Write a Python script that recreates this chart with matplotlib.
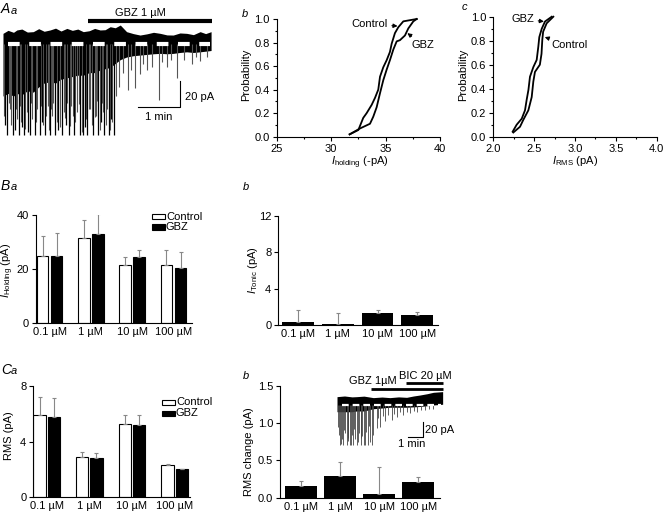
import matplotlib.pyplot as plt
from matplotlib.patches import Rectangle
from matplotlib.ticker import MultipleLocator

plt.rcParams['font.family'] = ['Liberation Sans', 'DejaVu Sans']
plt.rcParams['font.size'] = 8
plt.rcParams['axes.linewidth'] = 0.8
plt.rcParams['mathtext.fontset'] = 'custom'
plt.rcParams['mathtext.rm'] = 'Liberation Sans'
plt.rcParams['mathtext.it'] = 'Liberation Sans:italic'

# ---- datos ----
# Aa: registro (min, pA)
env_t = [0, 0.12, 0.25, 0.33, 0.45, 0.58, 0.72, 0.85, 0.98, 1.12, 1.25, 1.38, 1.52, 1.65, 1.78,
         1.91, 2.05, 2.18, 2.31, 2.43, 2.55, 2.67, 2.79, 2.94, 3.10, 3.26, 3.42, 3.58, 3.74, 3.90,
         4.05, 4.21, 4.37, 4.53, 4.69, 4.82, 4.95]
env_up = [8.2, 10.5, 9.0, 10.8, 11.5, 9.2, 9.5, 11.8, 9.8, 10.8, 12.2, 10.0, 12, 10.5, 11.5,
          9.5, 10.2, 12.0, 10.8, 11.0, 13.3, 12.5, 14.6, 9.5, 8.0, 6.9, 7.8, 9.0, 8.2, 7.0,
          6.9, 8.5, 8.2, 7.2, 9.5, 8.0, 9.5]
env_lo = [-40, -38, -40, -38, -39, -36, -37, -33, -30, -29, -30, -27, -26, -25, -24,
          -24, -22, -22, -20, -19, -18, -15, -12, -10, -9, -8.5, -8, -7.5, -7.2, -7.5,
          -7.2, -6.5, -6, -6.5, -6, -5.5, -5]
# eventos grandes (negro) y medianos (gris)
spk_t = [0.10, 0.23, 0.37, 0.50, 0.64, 0.76, 0.87, 1.00, 1.12, 1.24, 1.40, 1.56, 1.69, 1.83,
         1.91, 2.01, 2.15, 2.27, 2.40, 2.51, 2.63, 0.05, 0.28, 0.45, 0.60, 0.92, 1.30, 1.50,
         1.95, 2.33, 2.58]
spk_a = [70, 70, 70, 70, 70, 70, 70, 70, 70, 70, 70, 70, 70, 70,
         70, 70, 70, 70, 70, 70, 70, 62, 66, 64, 68, 60, 66, 62,
         64, 60, 58]
spk2_t = [0.03, 0.14, 0.17, 0.20, 0.30, 0.34, 0.40, 0.43, 0.53, 0.56, 0.67, 0.70, 0.79, 0.82,
          0.90, 0.94, 1.03, 1.06, 1.09, 1.15, 1.17, 1.20, 1.28, 1.32, 1.36, 1.44, 1.48, 1.53,
          1.59, 1.62, 1.66, 1.72, 1.75, 1.80, 1.87, 1.98, 2.04, 2.07, 2.11, 2.18, 2.21, 2.24,
          2.30, 2.35, 2.38, 2.45, 2.48, 2.54, 2.56, 2.60, 2.68,
          2.75, 2.86, 2.98, 3.05, 3.14, 3.26, 3.34, 3.42, 3.55, 3.70, 3.78, 3.90, 4.00, 4.13,
          4.30, 4.49, 4.60, 4.69, 4.85]
spk2_a = [55, 45, 50, 62, 50, 58, 48, 60, 65, 52, 45, 58, 60, 50,
          48, 62, 55, 48, 66, 50, 55, 45, 60, 50, 64, 52, 57, 45, 63, 48, 55, 60, 52, 46, 68, 58,
          50, 50, 62, 56, 55, 44, 66, 45, 52, 62, 50, 66, 48, 60, 40,
          33, 22, 35, 20, 34, 23, 15, 20, 18, 43, 14, 18, 12, 26,
          12, 15, 10, 13, 10]

# Ab: distribuciones acumuladas de I holding
hold_ctrl_x = [31.7, 32.5, 32.95, 33.26, 33.72, 34.03, 34.33, 34.49, 34.79, 35.10, 35.40, 35.56,
               35.86, 36.17, 36.63, 37.24, 37.86]
hold_ctrl_p = [0.02, 0.057, 0.16, 0.2, 0.27, 0.33, 0.40, 0.51, 0.59, 0.65, 0.72, 0.79,
               0.88, 0.93, 0.98, 0.99, 1.0]
hold_gbz_x = [31.7, 32.65, 33.57, 33.87, 34.18, 34.49, 34.79, 35.10, 35.40, 35.71, 36.02, 36.32,
              36.78, 37.09, 37.55, 37.86]
hold_gbz_p = [0.02, 0.07, 0.11, 0.17, 0.25, 0.37, 0.48, 0.57, 0.65, 0.74, 0.81, 0.82,
              0.86, 0.92, 0.98, 1.0]

# Ac: distribuciones acumuladas de I RMS
rms_gbz_x = [2.237, 2.286, 2.348, 2.388, 2.409, 2.43, 2.449, 2.49, 2.531, 2.551, 2.563, 2.593, 2.633, 2.715]
rms_gbz_p = [0.042, 0.10, 0.15, 0.22, 0.31, 0.39, 0.50, 0.58, 0.64, 0.75, 0.83, 0.90, 0.96, 1.0]
rms_ctrl_x = [2.245, 2.327, 2.367, 2.429, 2.47, 2.49, 2.51, 2.57, 2.59, 2.60, 2.61, 2.653, 2.735]
rms_ctrl_p = [0.035, 0.083, 0.14, 0.22, 0.33, 0.46, 0.54, 0.60, 0.69, 0.81, 0.875, 0.945, 1.0]

conc = ['0.1 µM', '1 µM', '10 µM', '100 µM']

# Ba
hold_ctrl = [24.9, 31.5, 21.4, 21.5]
hold_ctrl_err = [7.3, 6.7, 3.1, 5.6]
hold_gbz = [25.0, 32.9, 24.5, 20.4]
hold_gbz_err = [8.4, 7.3, 2.6, 5.9]

# Bb
tonic = [0.29, 0.07, 1.35, 1.06]
tonic_err = [1.36, 1.21, 0.30, 0.33]

# Ca
rms_ctrl = [5.88, 2.86, 5.24, 2.31]
rms_ctrl_err = [1.36, 0.40, 0.66, 0.07]
rms_gbz = [5.74, 2.81, 5.19, 2.00]
rms_gbz_err = [1.36, 0.39, 0.69, 0.05]

# Cb
rms_chg = [0.156, 0.29, 0.045, 0.21]
rms_chg_err = [0.066, 0.19, 0.365, 0.07]

# Cb recuadro: registro (min, pA)
ins_t = [0, 0.5, 1.0, 1.31, 1.8, 2.42, 3.0, 3.53, 4.1, 4.64, 5.1, 5.53, 6.0, 6.42, 7.04]
ins_up = [11.1, 12.0, 10.8, 11.1, 11.8, 9.8, 10.6, 9.8, 10.8, 10.2, 12.0, 13.3, 15.0, 16.9, 17.8]
ins_lo = [-9, -9, -9, -8, -8, -5, -4, -3, -3, -3, -2.5, -2, -1, 0, 1]
ins_spk_t = [0.20, 0.42, 0.64, 0.87, 1.09, 1.31, 1.58, 1.80, 2.09, 2.31,
             0.10, 0.31, 0.53, 0.75, 0.98, 1.20, 1.45, 1.69, 1.95, 2.20,
             0.05, 0.26, 0.48, 0.70, 0.92, 1.14, 1.38, 1.63, 1.88, 2.15, 2.40,
             2.64, 2.75, 2.87, 3.05, 3.20, 3.40, 3.64, 3.80, 3.98, 4.20, 4.42, 4.65, 4.87, 5.10,
             5.31, 5.60, 5.87, 6.10, 6.42]
ins_spk_a = [54, 54, 54, 54, 54, 54, 54, 54, 54, 54,
             40, 45, 38, 44, 40, 46, 38, 42, 36, 50,
             30, 52, 34, 48, 54, 32, 50, 44, 54, 28, 40,
             31, 18, 29, 15, 22, 14, 20, 12, 16, 10, 13, 9, 11, 8,
             9, 7, 7, 6, 5]

W, H = 664, 513
fig = plt.figure(figsize=(W / 100, H / 100), dpi=100)


def box(x0, y0, x1, y1):
    return fig.add_axes([x0 / W, 1 - y1 / H, (x1 - x0) / W, (y1 - y0) / H])


def ftext(x, y, s, **kw):
    fig.text(x / W, 1 - y / H, s, **kw)


def frect(x0, y0, x1, y1, fc):
    fig.add_artist(Rectangle((x0 / W, 1 - y1 / H), (x1 - x0) / W, (y1 - y0) / H,
                             transform=fig.transFigure, facecolor=fc, edgecolor='black', lw=0.8))


def estilo(ax):
    ax.spines['top'].set_visible(False)
    ax.spines['right'].set_visible(False)
    ax.tick_params(direction='out', length=3, width=0.8, pad=2, labelsize=8)
    ax.tick_params(which='minor', direction='out', length=1.5, width=0.8)


def etiqueta(x, y, mayus, minus):
    ftext(x, y, mayus, fontsize=10, style='italic', va='center')
    ftext(x + 9.5, y + 1.5, minus, fontsize=8, style='italic', va='center')


# ---------- Aa ----------
ax = box(0, 5, 230, 140)
ax.set_xlim(-0.071, 5.40)
ax.set_ylim(-73.8, 30)
ax.axis('off')
ax.fill_between(env_t, env_lo, env_up, color='black', lw=0)
ax.vlines(spk2_t, 0, [-a for a in spk2_a], color='#555555', lw=0.8)
ax.vlines(spk_t, 0, [-a for a in spk_a], color='black', lw=0.9)
ln, = ax.plot([0.126, 4.93], [0, 0], color='white', lw=3)
ln.set_dashes((2.8, 2.3))
ax.plot([2.02, 4.98], [17.7, 17.7], color='black', lw=3, solid_capstyle='butt')
ax.text(3.26, 23.8, 'GBZ 1 µM', ha='center', va='center', fontsize=8)
ax.plot([3.21, 4.21, 4.21], [-48.5, -48.5, -28.5], color='black', lw=0.8)
ax.text(4.33, -40.5, '20 pA', ha='left', va='center', fontsize=8)
ax.text(3.71, -56, '1 min', ha='center', va='center', fontsize=8)
etiqueta(1, 9, 'A', 'a')

# ---------- Ab ----------
ax = box(276.7, 19, 440, 136.7)
estilo(ax)
ax.plot(hold_ctrl_x, hold_ctrl_p, color='black', lw=1.3, clip_on=False)
ax.plot(hold_gbz_x, hold_gbz_p, color='black', lw=1.3, clip_on=False)
ax.set_xlim(25, 40)
ax.set_ylim(0, 1)
ax.xaxis.set_major_locator(MultipleLocator(5))
ax.xaxis.set_minor_locator(MultipleLocator(2.5))
ax.yaxis.set_major_locator(MultipleLocator(0.2))
ax.yaxis.set_minor_locator(MultipleLocator(0.1))
ax.set_yticklabels(['%.1f' % v for v in ax.get_yticks()])
ax.annotate('Control', xy=(36.1, 0.94), xytext=(35.2, 0.955), ha='right', va='center', fontsize=8,
            arrowprops=dict(arrowstyle='-|>', color='black', lw=0.8, mutation_scale=6, shrinkA=1, shrinkB=0))
ax.annotate('GBZ', xy=(37.0, 0.88), xytext=(37.4, 0.78), ha='left', va='center', fontsize=8,
            arrowprops=dict(arrowstyle='-|>', color='black', lw=0.8, mutation_scale=6, shrinkA=1, shrinkB=0))
ftext(246, 75, 'Probability', rotation=90, ha='center', va='center', fontsize=8)
ftext(360, 154.5, r'$\mathit{I}_{\mathrm{holding}}$ (-pA)', ha='center', va='top', fontsize=8)
ftext(242, 14, 'b', fontsize=8, style='italic', va='center')

# ---------- Ac ----------
ax = box(493.3, 16.7, 656.7, 136.7)
estilo(ax)
ax.plot(rms_gbz_x, rms_gbz_p, color='black', lw=1.3, clip_on=False)
ax.plot(rms_ctrl_x, rms_ctrl_p, color='black', lw=1.3, clip_on=False)
ax.set_xlim(2.0, 4.0)
ax.set_ylim(0, 1)
ax.xaxis.set_major_locator(MultipleLocator(0.5))
ax.xaxis.set_minor_locator(MultipleLocator(0.25))
ax.yaxis.set_major_locator(MultipleLocator(0.2))
ax.yaxis.set_minor_locator(MultipleLocator(0.1))
ax.set_yticklabels(['%.1f' % v for v in ax.get_yticks()])
ax.set_xticklabels(['%.1f' % v for v in ax.get_xticks()])
ax.annotate('GBZ', xy=(2.62, 0.96), xytext=(2.36, 0.98), ha='center', va='center', fontsize=8,
            arrowprops=dict(arrowstyle='-|>', color='black', lw=0.8, mutation_scale=6, shrinkA=1, shrinkB=0))
ax.annotate('Control', xy=(2.63, 0.83), xytext=(2.71, 0.76), ha='left', va='center', fontsize=8,
            arrowprops=dict(arrowstyle='-|>', color='black', lw=0.8, mutation_scale=6, shrinkA=1, shrinkB=0))
ftext(463, 75, 'Probability', rotation=90, ha='center', va='center', fontsize=8)
ftext(575, 154.5, r'$\mathit{I}_{\mathrm{RMS}}$ (pA)', ha='center', va='top', fontsize=8)
ftext(462, 7, 'c', fontsize=8, style='italic', va='center')

x4 = range(len(conc))
ebar = dict(fmt='none', ecolor='#888888', elinewidth=0.8, capsize=1.5, capthick=0.8)

# ---------- Ba ----------
ax = box(35.7, 215, 192, 323.3)
estilo(ax)
w, off = 0.283, 0.17
xc = [i - off for i in x4]
xg = [i + off for i in x4]
ax.bar(xc, hold_ctrl, w, color='white', edgecolor='black', lw=0.8)
ax.bar(xg, hold_gbz, w, color='black', edgecolor='black', lw=0.8)
ax.errorbar(xc, hold_ctrl, yerr=[[0] * 4, hold_ctrl_err], **ebar)
ax.errorbar(xg, hold_gbz, yerr=[[0] * 4, hold_gbz_err], **ebar)
ax.set_xlim(-0.336, 3.448)
ax.set_ylim(0, 40)
ax.set_yticks([0, 20, 40])
ax.set_xticks(list(x4))
ax.set_xticklabels(conc)
ax.tick_params(axis='x', length=0, pad=3)
frect(151.7, 214, 165, 219.3, 'white')
frect(151.7, 224.3, 165, 229.7, 'black')
ftext(166, 216.5, 'Control', va='center', fontsize=8)
ftext(166, 227, 'GBZ', va='center', fontsize=8)
ftext(8, 270, r'$\mathit{I}_{\mathrm{Holding}}$ (pA)', rotation=90, ha='center', va='center', fontsize=8)
etiqueta(1, 186, 'B', 'a')

# ---------- Bb ----------
ax = box(278.3, 215.7, 438, 325)
estilo(ax)
ax.bar(list(x4), tonic, 0.80, color='black')
ax.errorbar(list(x4), tonic, yerr=[[0] * 4, tonic_err], **ebar)
ax.set_xlim(-0.495, 3.52)
ax.set_ylim(0, 12)
ax.set_yticks([0, 4, 8, 12])
ax.set_xticks(list(x4))
ax.set_xticklabels(conc)
ax.tick_params(axis='x', length=0, pad=3)
ftext(253, 270, r'$\mathit{I}_{\mathrm{Tonic}}$ (pA)', rotation=90, ha='center', va='center', fontsize=8)
ftext(243, 187, 'b', fontsize=8, style='italic', va='center')

# ---------- Ca ----------
ax = box(33.3, 386, 190, 497)
estilo(ax)
w, off = 0.287, 0.167
xc = [i - off for i in x4]
xg = [i + off for i in x4]
ax.bar(xc, rms_ctrl, w, color='white', edgecolor='black', lw=0.8)
ax.bar(xg, rms_gbz, w, color='black', edgecolor='black', lw=0.8)
ax.errorbar(xc, rms_ctrl, yerr=[[0] * 4, rms_ctrl_err], **ebar)
ax.errorbar(xg, rms_gbz, yerr=[[0] * 4, rms_gbz_err], **ebar)
ax.set_xlim(-0.313, 3.36)
ax.set_ylim(0, 8)
ax.set_yticks([0, 4, 8])
ax.set_xticks(list(x4))
ax.set_xticklabels(conc)
ax.tick_params(axis='x', length=0, pad=3)
frect(161.7, 399.5, 175, 404.5, 'white')
frect(161.7, 411, 175, 416, 'black')
ftext(176, 402, 'Control', va='center', fontsize=8)
ftext(176, 413.5, 'GBZ', va='center', fontsize=8)
ftext(9, 436, 'RMS (pA)', rotation=90, ha='center', va='center', fontsize=8)
etiqueta(1, 370, 'C', 'a')

# ---------- Cb ----------
ax = box(280, 385.7, 440, 497.7)
estilo(ax)
ax.bar(list(x4), rms_chg, 0.816, color='black')
ax.errorbar(list(x4), rms_chg, yerr=[[0] * 4, rms_chg_err], **ebar)
ax.set_xlim(-0.536, 3.55)
ax.set_ylim(0, 1.5)
ax.set_yticks([0, 0.5, 1.0, 1.5])
ax.set_yticklabels(['0.0', '0.5', '1.0', '1.5'])
ax.set_xticks(list(x4))
ax.set_xticklabels(conc)
ax.tick_params(axis='x', length=0, pad=3)
ftext(249, 452, 'RMS change (pA)', rotation=90, ha='center', va='center', fontsize=8)
ftext(243, 376, 'b', fontsize=8, style='italic', va='center')

# recuadro con registro
ax = box(330, 365, 450, 450)
ax.set_xlim(-0.467, 7.53)
ax.set_ylim(-60, 53.3)
ax.axis('off')
ax.fill_between(ins_t, ins_lo, ins_up, color='black', lw=0)
ax.vlines(ins_spk_t, 0, [-a for a in ins_spk_a], color='#444444', lw=0.6)
ln, = ax.plot([0.3, 6.9], [0, 0], color='white', lw=1.6)
ln.set_dashes((3.0, 1.8))
ax.plot([2.27, 7.07], [21.3, 21.3], color='black', lw=2, solid_capstyle='butt')
ax.plot([4.6, 7.07], [29.3, 29.3], color='black', lw=2, solid_capstyle='butt')
ax.text(2.4, 31.5, 'GBZ 1µM', ha='center', va='center', fontsize=8)
ax.text(5.86, 38.5, 'BIC 20 µM', ha='center', va='center', fontsize=8)
ax.plot([4.73, 5.73, 5.73], [-42.2, -42.2, -22.2], color='black', lw=0.8)
ax.text(5.85, -33, '20 pA', ha='left', va='center', fontsize=8)
ax.text(5.0, -52, '1 min', ha='center', va='center', fontsize=8)

fig.savefig('out.png', dpi=100)
